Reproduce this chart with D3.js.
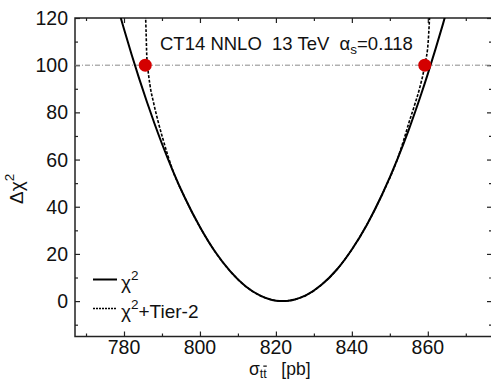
<!DOCTYPE html>
<html>
<head>
<meta charset="utf-8">
<script src="https://cdn.jsdelivr.net/npm/d3@7"></script>
<style>
  body { margin: 0; background: #fff; }
  svg { display: block; font-family: "Liberation Sans", Arial, sans-serif; }
</style>
</head>
<body>
<svg width="491" height="380"></svg>
<script>
// chi2 scan
const sigmaChi2 = [778.5, 780, 782, 784, 786, 788, 790, 793, 796, 800, 804, 808, 812, 816, 819, 821, 822, 823, 825, 828, 832, 836, 840, 844, 848, 852, 855, 858, 860, 862, 864, 866];
const chi2      = [123.7, 115.3, 104.5, 94.3, 84.6, 75.4, 66.7, 54.7, 43.9, 31.4, 20.9, 12.6, 6.3, 2.2, 0.5, 0.04, 0, 0.1, 0.7, 2.5, 6.9, 13.3, 21.9, 32.5, 45.3, 60.2, 72.7, 86.5, 96.3, 106.7, 117.5, 129];

// chi2 + Tier-2 penalty
const sigmaTier2 = [785.6, 785.8, 786.0, 786.2, 786.8, 787.8, 789.0, 790.2, 793, 796, 800, 804, 808, 812, 816, 819, 821, 822, 823, 825, 828, 832, 836, 840, 844, 848, 852, 853.6, 855, 856.5, 857.8, 859.2, 860.1, 860.6];
const tier2      = [125, 115, 104, 100, 92, 84, 76, 69, 54.7, 43.9, 31.4, 20.9, 12.6, 6.3, 2.2, 0.5, 0.04, 0, 0.1, 0.7, 2.5, 6.9, 13.3, 21.9, 32.5, 45.3, 60.2, 68, 75.5, 83, 90, 100, 110, 125];

const markSigma = [785.6, 859.2];
const markChi2 = [100, 100];

const xMajor = [780, 800, 820, 840, 860];
const xMinor = [770, 790, 810, 830, 850, 870];
const yMajor = [0, 20, 40, 60, 80, 100, 120];
const yMinor = [-10, 10, 30, 50, 70, 90, 110];

const margin = {left: 75, top: 18, right: 492, bottom: 336.5};

const svg = d3.select("svg");

const x = d3.scaleLinear().domain([767.1, 876.9]).range([margin.left, margin.right]);
const y = d3.scaleLinear().domain([-15, 120]).range([margin.bottom, margin.top]);

svg.append("defs").append("clipPath").attr("id", "clip")
  .append("rect")
  .attr("x", margin.left).attr("y", margin.top)
  .attr("width", margin.right - margin.left).attr("height", margin.bottom - margin.top);

// ticks (inward)
function tickAxis(axis, vals, size, transform) {
  const g = svg.append("g").attr("transform", transform)
    .call(axis.tickValues(vals).tickSize(size).tickFormat(""));
  g.select(".domain").remove();
  g.selectAll("line").attr("stroke", "#222").attr("stroke-width", 1.2);
  return g;
}
tickAxis(d3.axisBottom(x), xMajor, -5, `translate(0,${margin.bottom})`);
tickAxis(d3.axisBottom(x), xMinor, -3, `translate(0,${margin.bottom})`);
tickAxis(d3.axisTop(x), xMajor, -5, `translate(0,${margin.top})`);
tickAxis(d3.axisTop(x), xMinor, -3, `translate(0,${margin.top})`);
tickAxis(d3.axisLeft(y), yMajor, -5, `translate(${margin.left},0)`);
tickAxis(d3.axisLeft(y), yMinor, -3, `translate(${margin.left},0)`);
tickAxis(d3.axisRight(y), yMajor, -5, `translate(${margin.right},0)`);
tickAxis(d3.axisRight(y), yMinor, -3, `translate(${margin.right},0)`);

// frame
svg.append("rect")
  .attr("x", margin.left).attr("y", margin.top)
  .attr("width", margin.right - margin.left).attr("height", margin.bottom - margin.top)
  .attr("fill", "none").attr("stroke", "#222").attr("stroke-width", 1.5);

// tick labels
svg.append("g").selectAll("text").data(xMajor).join("text")
  .attr("x", d => x(d)).attr("y", 354)
  .attr("text-anchor", "middle").attr("font-size", 19.5).attr("fill", "#111")
  .text(d => d);
svg.append("g").selectAll("text").data(yMajor).join("text")
  .attr("x", 68).attr("y", d => y(d) + 7)
  .attr("text-anchor", "end").attr("font-size", 19.5).attr("fill", "#111")
  .text(d => d);

// reference line at 100
svg.append("line")
  .attr("x1", margin.left).attr("x2", margin.right)
  .attr("y1", y(100)).attr("y2", y(100))
  .attr("stroke", "#8a8a8a").attr("stroke-width", 1)
  .attr("stroke-dasharray", "5,2,1,2");

const plot = svg.append("g").attr("clip-path", "url(#clip)");

const line = d3.line().x(d => x(d[0])).y(d => y(d[1])).curve(d3.curveMonotoneX);

plot.append("path")
  .datum(d3.zip(sigmaChi2, chi2))
  .attr("d", line)
  .attr("fill", "none").attr("stroke", "#000").attr("stroke-width", 2);

plot.append("path")
  .datum(d3.zip(sigmaTier2, tier2))
  .attr("d", line)
  .attr("fill", "none").attr("stroke", "#000").attr("stroke-width", 1.6)
  .attr("stroke-dasharray", "3,1.6");

plot.selectAll("circle").data(d3.zip(markSigma, markChi2)).join("circle")
  .attr("cx", d => x(d[0])).attr("cy", d => y(d[1]))
  .attr("r", 6.5).attr("fill", "#d40000");

// annotation
const ann = svg.append("text")
  .attr("x", 160).attr("y", 50)
  .attr("font-size", 18.5).attr("fill", "#111")
  .style("white-space", "pre");
ann.append("tspan").text("CT14 NNLO  13 TeV  α");
ann.append("tspan").attr("font-size", 13.5).attr("dy", 4).text("s");
ann.append("tspan").attr("dy", -4).text("=0.118");

// legend
const legend = [
  {label: "", dash: null, w: 2, y: 279.5, base: 289},
  {label: "+Tier-2", dash: "2,1", w: 1.5, y: 308.5, base: 318}
];
legend.forEach(l => {
  svg.append("line")
    .attr("x1", 93).attr("x2", 117).attr("y1", l.y).attr("y2", l.y)
    .attr("stroke", "#000").attr("stroke-width", l.w)
    .attr("stroke-dasharray", l.dash);
  const t = svg.append("text").attr("x", 121).attr("y", l.base)
    .attr("font-size", 19).attr("fill", "#111");
  t.append("tspan").text("χ");
  t.append("tspan").attr("font-size", 13.5).attr("dy", -9).text("2");
  t.append("tspan").attr("dy", 9).text(l.label);
});

// axis titles
const xt = svg.append("text").attr("x", 249).attr("y", 374.5)
  .attr("font-size", 17.5).attr("fill", "#111");
xt.append("tspan").text("σ");
xt.append("tspan").attr("font-size", 12.5).attr("dy", 3).text("t");
xt.append("tspan").attr("font-size", 12.5).style("text-decoration", "overline").text("t");
xt.append("tspan").attr("dy", -3).style("white-space", "pre").text("   [pb]");

const yt = svg.append("text")
  .attr("transform", "translate(23,204) rotate(-90)")
  .attr("font-size", 19).attr("fill", "#111");
yt.append("tspan").text("Δχ");
yt.append("tspan").attr("font-size", 13.5).attr("dy", -9).text("2");
</script>
</body>
</html>
